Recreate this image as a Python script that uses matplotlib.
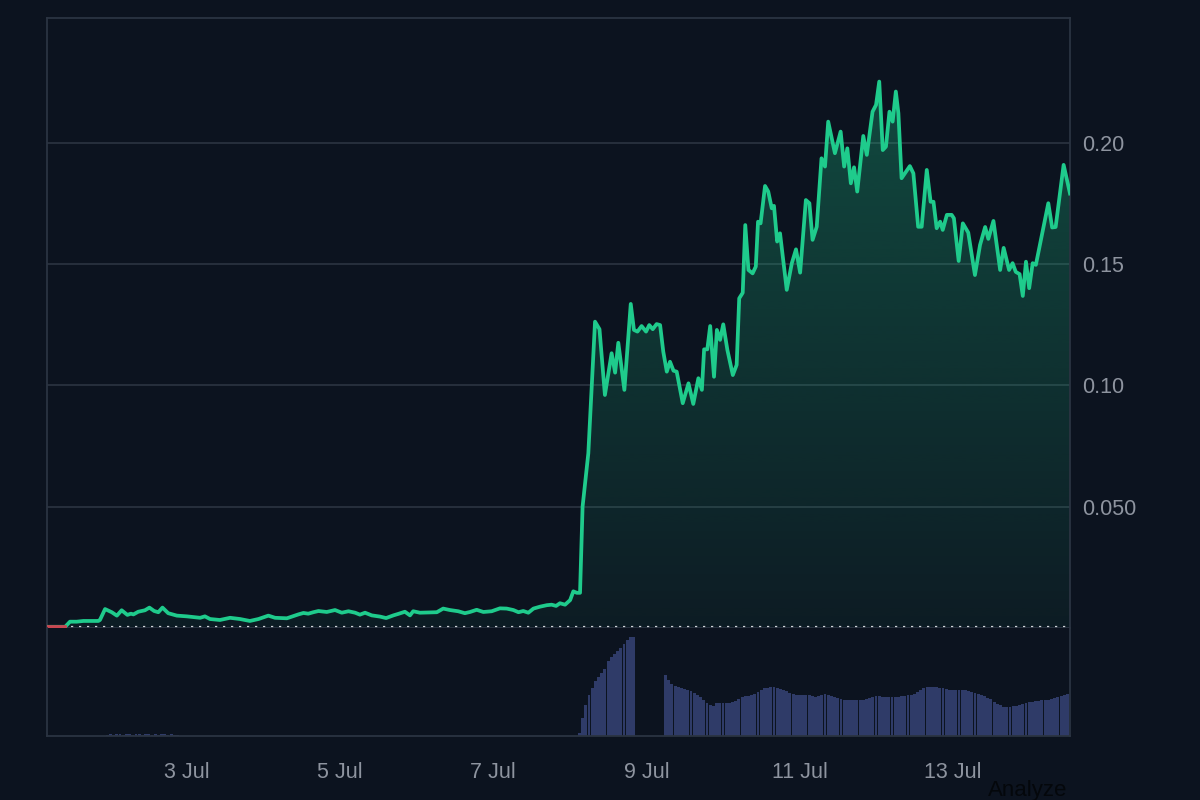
import numpy as np
import matplotlib
matplotlib.use("Agg")
import matplotlib.pyplot as plt
from matplotlib.colors import to_rgb
from matplotlib.patches import Polygon

plt.rcParams['font.family'] = ['Liberation Sans', 'DejaVu Sans']

# price series: hours since 1 Jul 00:00 and price
hours = [
    4.1, 9.8, 11.3, 13.4, 15.5, 20.2, 20.7, 22.3, 24.4, 26.0,
    27.5, 29.3, 30.4, 31.2, 32.7, 34.8, 36.2, 37.7, 39.0, 40.3,
    42.1, 44.8, 47.9, 50.0, 52.1, 53.6, 55.2, 58.3, 61.5, 64.6,
    67.7, 70.4, 73.5, 75.6, 79.3, 82.9, 84.5, 86.0, 87.6, 89.2,
    91.8, 94.4, 96.5, 98.6, 100.7, 102.2, 103.8, 105.9, 108.5, 110.4,
    112.7, 114.2, 116.3, 117.9, 118.9, 121.0, 126.3, 128.3, 130.4, 133.0,
    135.1, 136.7, 138.8, 140.9, 143.5, 146.1, 148.2, 150.3, 151.9, 153.4,
    155.0, 156.6, 158.7, 160.8, 162.3, 163.7, 164.9, 166.5, 168.1, 169.1,
    170.2, 171.2, 172.0, 173.8, 175.9, 177.3, 179.0, 181.1, 182.2, 183.2,
    185.1, 187.1, 188.1, 189.2, 190.5, 191.9, 192.9, 194.0, 195.2, 196.3,
    197.3, 198.4, 199.4, 200.5, 201.5, 203.4, 205.2, 206.7, 208.3, 209.4,
    210.1, 211.1, 212.0, 213.2, 214.1, 215.1, 216.1, 217.4, 219.1, 220.3,
    221.1, 222.2, 223.0, 224.0, 225.3, 226.3, 227.0, 227.8, 229.2, 230.2,
    231.3, 232.0, 233.0, 233.9, 236.0, 237.6, 238.9, 240.2, 242.0, 243.1,
    244.1, 245.4, 246.9, 248.0, 249.0, 251.1, 252.9, 254.0, 255.0, 256.1,
    257.1, 258.1, 260.0, 261.1, 262.9, 264.0, 265.0, 266.1, 267.1, 268.2,
    269.2, 270.2, 271.0, 272.0, 274.6, 275.7, 277.2, 278.3, 279.9, 281.1,
    282.0, 283.0, 284.1, 284.9, 286.2, 287.7, 288.4, 289.9, 291.2, 292.9,
    295.0, 296.6, 298.2, 299.2, 300.8, 302.9, 304.0, 305.7, 306.8, 307.8,
    309.0, 310.0, 311.0, 312.0, 313.1, 314.1, 318.0, 319.2, 320.3, 322.8, 324.8,
]
prices = [
    0.0005, 0.0005, 0.0026, 0.0026, 0.0029, 0.0029, 0.0033, 0.0078, 0.0065, 0.0051,
    0.0073, 0.0054, 0.0059, 0.0056, 0.0067, 0.0073, 0.0084, 0.0070, 0.0065, 0.0084,
    0.0061, 0.0051, 0.0048, 0.0045, 0.0042, 0.0048, 0.0037, 0.0033, 0.0042, 0.0037,
    0.0029, 0.0037, 0.0051, 0.0042, 0.0040, 0.0056, 0.0062, 0.0059, 0.0065, 0.0070,
    0.0066, 0.0074, 0.0063, 0.0069, 0.0063, 0.0055, 0.0063, 0.0052, 0.0047, 0.0041,
    0.0052, 0.0058, 0.0067, 0.0052, 0.0069, 0.0063, 0.0065, 0.0080, 0.0074, 0.0069,
    0.0061, 0.0066, 0.0075, 0.0066, 0.0069, 0.0081, 0.0080, 0.0074, 0.0065, 0.0070,
    0.0063, 0.0080, 0.0088, 0.0094, 0.0096, 0.0091, 0.0102, 0.0096, 0.0115, 0.0151,
    0.0145, 0.0145, 0.0500, 0.0720, 0.1262, 0.1231, 0.0960, 0.1132, 0.1052, 0.1175,
    0.0981, 0.1335, 0.1228, 0.1221, 0.1244, 0.1221, 0.1248, 0.1231, 0.1252, 0.1248,
    0.1138, 0.1056, 0.1097, 0.1060, 0.1056, 0.0926, 0.1008, 0.0923, 0.1029, 0.0981,
    0.1148, 0.1148, 0.1244, 0.1035, 0.1228, 0.1187, 0.1251, 0.1145, 0.1042, 0.1084,
    0.1358, 0.1381, 0.1660, 0.1475, 0.1461, 0.1489, 0.1674, 0.1667, 0.1821, 0.1798,
    0.1729, 0.1739, 0.1592, 0.1626, 0.1393, 0.1503, 0.1560, 0.1464, 0.1763, 0.1750,
    0.1599, 0.1653, 0.1935, 0.1901, 0.2086, 0.1956, 0.2045, 0.1901, 0.1976, 0.1832,
    0.1898, 0.1798, 0.2027, 0.1949, 0.2127, 0.2155, 0.2251, 0.1969, 0.1983, 0.2127,
    0.2086, 0.2210, 0.2121, 0.1853, 0.1903, 0.1873, 0.1653, 0.1653, 0.1887, 0.1756,
    0.1756, 0.1647, 0.1674, 0.1640, 0.1702, 0.1702, 0.1688, 0.1512, 0.1667, 0.1629,
    0.1454, 0.1578, 0.1652, 0.1603, 0.1677, 0.1475, 0.1566, 0.1475, 0.1503, 0.1467,
    0.1458, 0.1368, 0.1509, 0.1400, 0.1503, 0.1496, 0.1750, 0.1650, 0.1652, 0.1908, 0.1790,
]
base_price = 0.0005

# hourly volume (arbitrary units), three stretches with trades
vol_early_start = 23
vol_early = [1.5, 1.6, 1.5, 1.7, 1.6, 1.5, 1.8, 1.6, 1.5, 1.7, 1.6, 1.5,
             1.6, 1.7, 1.5, 1.6, 1.5, 1.6, 1.7, 1.5, 1.6, 1.5, 1.4]
vol_pump_start = 171
vol_pump = [3, 18, 31, 41, 48, 55, 59, 63, 67, 75, 79, 82, 85, 88, 92, 96, 99, 99]
vol_late_start = 198
vol_late = [
    61, 56, 52, 50, 49, 48, 47, 46, 45, 43,
    41, 39, 36, 33, 31, 30, 33, 33, 33, 33,
    33, 34, 35, 37, 39, 40, 40, 41, 42, 44,
    46, 48, 48, 49, 49, 48, 47, 46, 45, 43,
    42, 41, 41, 41, 41, 41, 40, 39, 40, 41,
    42, 41, 40, 39, 38, 37, 36, 36, 36, 36,
    36, 36, 36, 37, 38, 39, 40, 40, 39, 39,
    39, 39, 39, 39, 40, 40, 41, 41, 42, 44,
    46, 48, 49, 49, 49, 49, 48, 48, 47, 46,
    46, 46, 46, 46, 46, 45, 44, 43, 42, 41,
    40, 38, 37, 34, 32, 31, 29, 29, 29, 30,
    30, 31, 32, 33, 34, 34, 35, 35, 36, 36,
    36, 37, 38, 39, 40, 41, 42,
]

tick_hours = [48, 96, 144, 192, 240, 288]
tick_labels = ["3 Jul", "5 Jul", "7 Jul", "9 Jul", "11 Jul", "13 Jul"]
ytick_vals = [0.05, 0.10, 0.15, 0.20]
ytick_labels = ["0.050", "0.10", "0.15", "0.20"]

bg = "#0c131f"
green = "#1fcb8c"
red = "#c94550"
frame = "#2b3442"
grid_c = "#29323f"
label_c = "#8e949f"
vol_c = "#2f3b68"

x0, x1 = 4.1, 324.8

fig = plt.figure(figsize=(12, 8), dpi=100, facecolor=bg)
ax = fig.add_axes([47 / 1200, 1 - 628 / 800, 1023 / 1200, 610 / 800])
axv = fig.add_axes([47 / 1200, 1 - 736 / 800, 1023 / 1200, 108 / 800])
for a in (ax, axv):
    a.set_facecolor(bg)
    for s in a.spines.values():
        s.set_color(frame)
        s.set_linewidth(1.3)

# gradient area under the line
h = np.array(hours)
p = np.array(prices)
grad = np.zeros((256, 1, 4))
grad[..., :3] = to_rgb(green)
grad[..., 3] = np.linspace(0.30, 0.05, 256).reshape(-1, 1)
im = ax.imshow(grad, extent=[x0, x1, 0, p.max()], aspect="auto",
               origin="upper", zorder=1, interpolation="bilinear")
verts = list(zip(h, p)) + [(h[-1], 0), (h[0], 0)]
clip = Polygon(verts, transform=ax.transData, facecolor="none", edgecolor="none")
ax.add_patch(clip)
im.set_clip_path(clip)

for yv in ytick_vals:
    ax.axhline(yv, color=grid_c, lw=1.3, zorder=0.5)
ax.axhline(base_price, color="#cfd3d8", lw=1.6, ls=(0, (1, 2.6)), zorder=2)

ax.plot(h, p, color=green, lw=2.7, zorder=3, solid_joinstyle="round")
low = p <= base_price
ax.plot(h[low], p[low], color=red, lw=2.7, zorder=4)

ax.set_xlim(x0, x1)
ax.set_ylim(0, 0.2513)
ax.set_xticks([])
ax.yaxis.tick_right()
ax.set_yticks(ytick_vals)
ax.set_yticklabels(ytick_labels)
ax.tick_params(axis="y", length=0, pad=9, labelsize=15.5, labelcolor=label_c)

# volume bars
for start, vals in ((vol_early_start, vol_early), (vol_pump_start, vol_pump),
                    (vol_late_start, vol_late)):
    xs = start + np.arange(len(vals))
    axv.bar(xs, vals, width=0.9, color=vol_c, linewidth=0)
axv.set_xlim(x0, x1)
axv.set_ylim(0, 108)
axv.spines["top"].set_visible(False)
axv.set_yticks([])
axv.set_xticks(tick_hours)
axv.set_xticklabels(tick_labels)
axv.tick_params(axis="x", length=0, pad=19, labelsize=15.5, labelcolor=label_c)

fig.text(988 / 1200, 1 - 780 / 800, "Analyze", color="#04070b", fontsize=16,
         ha="left", va="top")

fig.savefig("out.png", dpi=100, facecolor=bg)
